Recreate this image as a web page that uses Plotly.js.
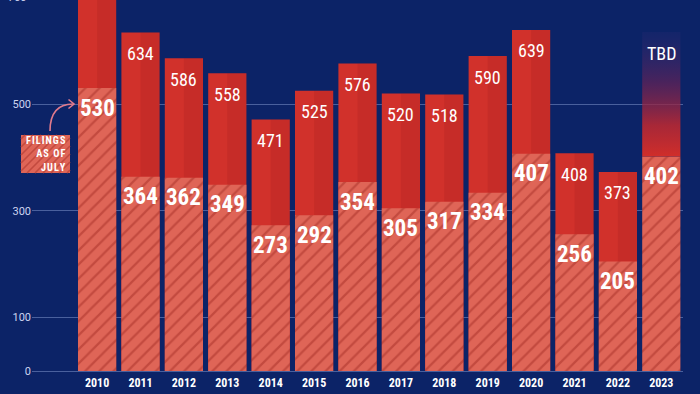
<!DOCTYPE html>
<html><head><meta charset="utf-8">
<script src="https://cdn.plot.ly/plotly-3.0.1.min.js"></script>
<style>html,body{margin:0;padding:0;background:#0c2367;}#chart{width:700px;height:394px;}</style>
</head><body><div id="chart"></div>
<script>
// ---- data ----
const years = ['2010','2011','2012','2013','2014','2015','2016','2017','2018','2019','2020','2021','2022','2023'];
const filingsJuly = [530, 364, 362, 349, 273, 292, 354, 305, 317, 334, 407, 256, 205, 402];
const fullYear = [755, 634, 586, 558, 471, 525, 576, 520, 518, 590, 639, 408, 373, null];
const tbdLabel = 'TBD';
const tbdExtent = 635;          // height of the faded 2023 bar
const yTicks = [0, 100, 300, 500, 700];

// ---- styling ----
const BG = '#0c2367';
const RED = '#d1312b';
const SALMON = '#df6557';
const HATCH = '#c34a3f';
const NUMFONT = "'Roboto Condensed', 'Liberation Sans Narrow', 'DejaVu Sans Condensed', Roboto, sans-serif";
const BAR_W = 0.88;
const YMAX = 695;

const idx = years.map((_, i) => i);
const doneIdx = idx.filter(i => fullYear[i] !== null);

const traces = [];
traces.push({
  type: 'bar', x: doneIdx, y: doneIdx.map(i => fullYear[i]), width: BAR_W,
  marker: {color: RED, line: {width: 0}}, hoverinfo: 'skip'
});
traces.push({
  type: 'bar', x: doneIdx, base: doneIdx.map(i => filingsJuly[i]),
  y: doneIdx.map(i => fullYear[i] - filingsJuly[i]), width: BAR_W / 2, offset: 0,
  marker: {color: 'rgba(90,0,10,0.09)', line: {width: 0}}, hoverinfo: 'skip'
});
const tIdx = idx.filter(i => fullYear[i] === null);
tIdx.forEach(i => {
  const x0 = i - BAR_W / 2, x1 = i + BAR_W / 2;
  traces.push({
    type: 'scatter', mode: 'lines', x: [x0, x1, x1, x0, x0],
    y: [filingsJuly[i], filingsJuly[i], tbdExtent, tbdExtent, filingsJuly[i]],
    fill: 'toself', line: {width: 0, color: 'rgba(0,0,0,0)'}, hoverinfo: 'skip',
    fillgradient: {type: 'vertical', start: filingsJuly[i], stop: tbdExtent,
      colorscale: [[0, 'rgba(208,46,42,1)'], [0.25, 'rgba(185,40,50,0.9)'],
                   [0.6, 'rgba(115,35,85,0.6)'], [1, 'rgba(55,45,120,0.18)']]}
  });
});
traces.push({
  type: 'bar', x: idx, y: filingsJuly, width: BAR_W,
  marker: {color: SALMON, line: {width: 0},
    pattern: {shape: '/', fgcolor: HATCH, bgcolor: SALMON, size: 10, solidity: 0.22, fillmode: 'replace'}},
  hoverinfo: 'skip'
});

const annotations = [];
doneIdx.forEach(i => annotations.push({
  x: i, y: fullYear[i], xref: 'x', yref: 'y', yshift: -21, showarrow: false,
  text: String(fullYear[i]), font: {family: NUMFONT, size: 18, color: '#ffffff'}
}));
tIdx.forEach(i => annotations.push({
  x: i, y: tbdExtent, xref: 'x', yref: 'y', yshift: -21, showarrow: false,
  text: tbdLabel, font: {family: NUMFONT, size: 18, color: '#ffffff'}
}));
idx.forEach(i => annotations.push({
  x: i, y: filingsJuly[i], xref: 'x', yref: 'y', yshift: -20, showarrow: false,
  text: String(filingsJuly[i]), font: {family: NUMFONT, size: 23, color: '#ffffff', weight: 700}
}));

// ---- callout (pixel helpers) ----
const M = {l: 32, r: 17, t: 0, b: 23};
const PW = 700 - M.l - M.r, PH = 394 - M.t - M.b;
const px = v => (v - M.l) / PW;
const py = v => (M.t + PH - v) / PH;
// top tick label that sits just above the plotted range (cut by the top edge, as in the original)
yTicks.filter(v => v > YMAX).forEach(v => annotations.push({
  xref: 'paper', yref: 'paper', x: px(29), y: py(PH - v * PH / YMAX), xanchor: 'right', yanchor: 'middle',
  showarrow: false, text: String(v), font: {family: "Roboto, sans-serif", size: 11, color: '#cdd5ef'}
}));
const box = {x0: 21, x1: 70, y0: 135, y1: 173};
const shapes = [];
shapes.push({type: 'rect', xref: 'paper', yref: 'paper', x0: px(box.x0), x1: px(box.x1),
  y0: py(box.y1), y1: py(box.y0), fillcolor: SALMON, line: {width: 0}, layer: 'above'});
let hatchPath = '';
for (let c = box.x0 + box.y0 + 4; c < box.x1 + box.y1; c += 8) {
  const xa = Math.max(box.x0, c - box.y1), xb = Math.min(box.x1, c - box.y0);
  if (xb <= xa) continue;
  hatchPath += `M${px(xa)},${py(c - xa)} L${px(xb)},${py(c - xb)} `;
}
shapes.push({type: 'path', xref: 'paper', yref: 'paper', path: hatchPath,
  line: {color: HATCH, width: 1.6}, layer: 'above'});
shapes.push({type: 'path', xref: 'paper', yref: 'paper',
  path: `M${px(50)},${py(131)} C${px(50)},${py(112)} ${px(58)},${py(104)} ${px(73)},${py(104)}`,
  line: {color: '#e07a8c', width: 1.6}, layer: 'above'});
shapes.push({type: 'path', xref: 'paper', yref: 'paper',
  path: `M${px(68.5)},${py(99.5)} L${px(74)},${py(104)} L${px(68.5)},${py(108.5)}`,
  line: {color: '#e07a8c', width: 1.6}, layer: 'above'});
const sp = s => s.split('').join('\u200a');
annotations.push({
  xref: 'paper', yref: 'paper', x: px(67.5), y: py(154), xanchor: 'right', yanchor: 'middle',
  align: 'right', showarrow: false,
  text: [sp('FILINGS'), sp('AS OF'), sp('JULY')].join('<br>'),
  font: {family: NUMFONT, size: 10.2, color: '#ffffff', weight: 700}
});

const layout = {
  width: 700, height: 394, margin: M,
  paper_bgcolor: BG, plot_bgcolor: BG, barmode: 'overlay', showlegend: false,
  xaxis: {range: [-1.5, 13.5], tickvals: idx, ticktext: years, showgrid: false, zeroline: false,
    ticks: '', ticklabelstandoff: 3, fixedrange: true,
    tickfont: {family: NUMFONT, size: 12, color: '#ffffff', weight: 700}},
  yaxis: {range: [0, YMAX], tickvals: yTicks, ticktext: yTicks.map(String), showgrid: true,
    gridcolor: 'rgba(150,170,225,0.45)', gridwidth: 1, zeroline: true,
    zerolinecolor: 'rgba(150,170,225,0.45)', zerolinewidth: 1, ticks: '', fixedrange: true,
    tickfont: {family: "Roboto, sans-serif", size: 11, color: '#cdd5ef'}},
  annotations: annotations, shapes: shapes
};
Plotly.newPlot('chart', traces, layout, {displayModeBar: false, staticPlot: true});
</script></body></html>
